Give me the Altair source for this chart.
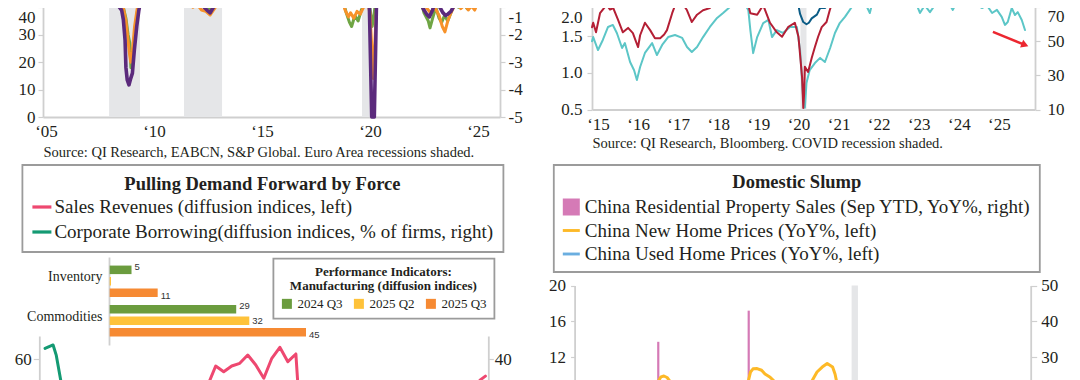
import altair as alt
import pandas as pd

# ---------------- data ----------------
# Top-left: Euro area indicators (green / orange on left axis, purple on right axis)
tl_recession_start = [2007.92, 2011.39, 2019.63]
tl_recession_end = [2009.35, 2013.15, 2020.0]
tl_green = [(2005.0, 52), (2006.0, 56), (2007.0, 57), (2007.8, 50), (2008.3, 45), (2008.55, 41),
            (2008.7, 36), (2008.8, 30), (2008.88, 27), (2008.93, 18), (2009.0, 21), (2009.1, 30),
            (2009.2, 37), (2009.3, 42), (2009.6, 48), (2010.5, 56), (2011.0, 57), (2011.5, 48),
            (2011.8, 42), (2012.0, 40.5), (2012.3, 41.5), (2012.6, 39.5), (2012.9, 41), (2013.2, 44),
            (2013.8, 50), (2015.0, 52), (2016.0, 53), (2017.0, 57), (2018.0, 55), (2018.7, 44),
            (2018.9, 38), (2019.05, 34.5), (2019.15, 33), (2019.3, 37), (2019.45, 35), (2019.6, 39),
            (2019.8, 42), (2019.98, 41), (2020.1, 33), (2020.2, 38), (2020.35, 50), (2021.0, 55),
            (2021.5, 62), (2022.0, 57), (2022.3, 44), (2022.5, 38), (2022.7, 35), (2022.78, 32.5),
            (2022.9, 36), (2023.05, 40), (2023.2, 36), (2023.32, 34.5), (2023.45, 37), (2023.6, 35),
            (2023.75, 38), (2023.9, 41), (2024.1, 40), (2024.3, 42), (2024.5, 39.5), (2024.7, 41),
            (2024.9, 43), (2025.2, 45), (2025.6, 47)]
tl_orange = [(2005.0, 54), (2006.0, 57), (2007.0, 58), (2007.8, 52), (2008.3, 46), (2008.5, 43),
             (2008.7, 35), (2008.85, 24), (2008.92, 20), (2009.0, 24), (2009.1, 33), (2009.25, 41),
             (2009.5, 48), (2010.5, 56), (2011.3, 50), (2011.6, 43), (2011.8, 40), (2012.0, 41),
             (2012.2, 39), (2012.4, 38.5), (2012.6, 37.2), (2012.8, 39.5), (2013.0, 42), (2013.5, 48),
             (2015.0, 53), (2017.0, 58), (2018.0, 57), (2018.6, 45), (2018.85, 39), (2019.0, 36.5),
             (2019.1, 38), (2019.25, 36), (2019.4, 38.5), (2019.55, 37.5), (2019.7, 40), (2019.85, 43),
             (2020.0, 38), (2020.12, 20), (2020.16, 14), (2020.24, 30), (2020.35, 48), (2021.0, 55),
             (2022.0, 56), (2022.4, 45), (2022.6, 40), (2022.8, 38), (2023.0, 40), (2023.2, 37),
             (2023.35, 33), (2023.47, 31), (2023.6, 35), (2023.75, 38), (2023.9, 40.5), (2024.1, 42),
             (2024.2, 39.5), (2024.4, 41), (2024.55, 39), (2024.7, 40.5), (2024.85, 39), (2025.0, 42),
             (2025.3, 44), (2025.6, 46)]
tl_purple = [(2005.0, 0.5), (2006.0, 0.8), (2007.0, 0.6), (2007.8, 0.2), (2008.2, -0.5), (2008.4, -1.0),
             (2008.5, -1.1), (2008.58, -1.45), (2008.66, -2.2), (2008.7, -3.2), (2008.76, -3.65),
             (2008.84, -3.83), (2008.92, -3.6), (2009.0, -3.4), (2009.09, -2.55), (2009.2, -1.7),
             (2009.3, -1.1), (2009.45, -0.5), (2010.0, 0.3), (2011.0, 0.5), (2011.5, -0.6),
             (2011.6, -0.85), (2011.7, -0.95), (2011.9, -0.7), (2012.2, -0.9), (2012.45, -1.1),
             (2012.6, -1.2), (2012.75, -1.0), (2013.0, -0.7), (2013.5, 0.1), (2015.0, 0.4),
             (2017.0, 0.7), (2018.8, 0.1), (2019.0, -0.6), (2019.3, -0.9), (2019.6, -0.8),
             (2019.97, -0.9), (2020.08, -5.0), (2020.2, -5.0), (2020.3, -0.9), (2020.4, 1.0),
             (2021.0, 1.5), (2022.0, 0.5), (2022.3, -0.8), (2022.5, -1.1), (2022.62, -1.25),
             (2022.75, -1.35), (2022.9, -1.1), (2023.0, -0.8), (2023.2, -0.95), (2023.38, -1.2),
             (2023.5, -1.3), (2023.6, -1.25), (2023.75, -1.15), (2023.85, -1.0), (2024.0, -0.8),
             (2024.3, -0.7), (2024.6, -0.9), (2025.0, -0.7), (2025.5, -0.5)]
tl_xticks = [2005, 2010, 2015, 2020, 2025]
tl_left_ticks = [0, 10, 20, 30, 40]
tl_right_ticks = [-5, -4, -3, -2, -1]
tl_source = "Source: QI Research, EABCN, S&P Global. Euro Area recessions shaded."

# Top-right: red / blue on left axis, cyan on right axis
tr_covid_start = [2020.05]
tr_covid_end = [2020.2]
tr_red = [(2014.85, 1.62), (2014.88, 1.68), (2014.95, 1.55), (2015.05, 1.81), (2015.15, 1.88),
          (2015.22, 1.92), (2015.3, 1.86), (2015.38, 1.88), (2015.5, 1.72), (2015.62, 1.55),
          (2015.75, 1.61), (2015.87, 1.54), (2015.95, 1.42), (2016.0, 1.35), (2016.05, 1.51),
          (2016.17, 1.68), (2016.3, 1.58), (2016.42, 1.47), (2016.55, 1.47), (2016.65, 1.52),
          (2016.72, 1.58), (2016.85, 1.81), (2016.97, 1.99), (2017.1, 1.95), (2017.22, 1.85),
          (2017.34, 1.69), (2017.47, 1.79), (2017.62, 1.85), (2017.79, 1.88), (2017.87, 1.99),
          (2018.2, 2.1), (2018.5, 2.05), (2018.72, 1.98), (2018.8, 1.81), (2018.97, 1.79),
          (2019.12, 1.92), (2019.29, 1.68), (2019.46, 1.55), (2019.59, 1.49), (2019.74, 1.62),
          (2019.91, 1.68), (2020.0, 1.49), (2020.09, 0.94), (2020.12, 0.52), (2020.14, 0.7),
          (2020.16, 1.08), (2020.24, 1.01), (2020.33, 1.2), (2020.41, 1.35), (2020.49, 1.49),
          (2020.58, 1.62), (2020.7, 1.69), (2020.78, 1.85), (2020.86, 1.99), (2021.0, 2.15),
          (2022.0, 2.4), (2023.0, 2.3), (2024.0, 2.4), (2025.0, 2.3), (2025.7, 2.2)]
tr_blue = [(2014.85, 2.4), (2015.8, 2.1), (2015.95, 1.97), (2016.05, 1.96), (2016.2, 2.1),
           (2017.0, 2.5), (2018.0, 2.6), (2019.0, 2.3), (2019.9, 2.2), (2019.97, 2.0),
           (2020.04, 1.8), (2020.12, 1.69), (2020.2, 1.66), (2020.26, 1.68), (2020.33, 1.74),
           (2020.46, 1.79), (2020.54, 1.88), (2020.66, 1.88), (2020.79, 1.95), (2020.9, 2.05),
           (2021.0, 2.3), (2022.0, 2.6), (2023.0, 2.5), (2024.0, 2.6), (2025.0, 2.5), (2025.7, 2.4)]
tr_cyan = [(2014.85, 50), (2014.88, 52.4), (2015.0, 44.8), (2015.12, 50.7), (2015.25, 58.3),
           (2015.37, 59.5), (2015.47, 54.8), (2015.6, 46), (2015.67, 48.9), (2015.8, 37.8),
           (2015.9, 33), (2015.97, 27.3), (2016.05, 34.9), (2016.17, 43.1), (2016.35, 48.9),
           (2016.47, 41.9), (2016.6, 47.8), (2016.75, 52.4), (2016.92, 53.6), (2017.1, 51.9),
           (2017.22, 46.6), (2017.34, 43.7), (2017.47, 46.6), (2017.62, 52.4), (2017.79, 58.3),
           (2017.97, 63.6), (2018.12, 66.5), (2018.29, 70), (2018.47, 70), (2018.62, 74),
           (2018.75, 68), (2018.8, 56.5), (2018.87, 43), (2018.97, 52.4), (2019.12, 60.6),
           (2019.25, 62.4), (2019.34, 52.4), (2019.46, 56.5), (2019.61, 54.8), (2019.79, 58.3),
           (2019.96, 58.3), (2020.04, 44.8), (2020.12, 15.6), (2020.16, 11), (2020.2, 25.5),
           (2020.28, 33.1), (2020.41, 37.2), (2020.54, 40.2), (2020.66, 37.8), (2020.79, 46),
           (2020.91, 54.8), (2021.03, 60.6), (2021.16, 64.2), (2021.33, 70), (2021.46, 74),
           (2021.66, 72.4), (2021.78, 66.5), (2021.86, 74), (2022.2, 80), (2022.78, 76),
           (2022.83, 71), (2022.92, 73), (2023.03, 66.5), (2023.15, 71), (2023.28, 67),
           (2023.4, 71), (2023.55, 76), (2023.73, 73), (2023.85, 68.3), (2023.95, 73),
           (2024.15, 78), (2024.35, 74), (2024.45, 71), (2024.58, 69.4), (2024.7, 71),
           (2024.83, 66.5), (2024.95, 68.3), (2025.07, 64.2), (2025.15, 59.5), (2025.22, 61.2),
           (2025.32, 69.4), (2025.4, 65.3), (2025.47, 67), (2025.57, 62.4), (2025.65, 56.5)]
tr_arrow = [(2024.85, 55.4, 2025.65, 47.8)]
tr_xticks = [2015, 2016, 2017, 2018, 2019, 2020, 2021, 2022, 2023, 2024, 2025]
tr_left_ticks = [0.5, 1.0, 1.5, 2.0]
tr_right_ticks = [10, 30, 50, 70]
tr_source = "Source: QI Research, Bloomberg. COVID recession shaded."

# Bottom-left: performance indicators (bars)
bar_categories = ["Inventory", "Commodities"]
bar_periods = ["2024 Q3", "2025 Q2", "2025 Q3"]
bar_inventory = [5, 0.3, 11]
bar_commodities = [29, 32, 45]
bar_title = ["Performance Indicators:", "Manufacturing  (diffusion indices)"]

# Bottom-left: pulling demand forward (lines)
bl_title = "Pulling Demand Forward by Force"
bl_series = ["Sales Revenues (diffusion indices, left)",
             "Corporate Borrowing(diffusion indices, % of firms, right)"]
bl_sales = [(2011.75, 35), (2012.5, 38), (2013.5, 33), (2014.5, 40), (2015.5, 36), (2016.25, 42),
            (2016.75, 39), (2017.0, 45.3), (2017.25, 56.1), (2017.5, 52.9), (2017.75, 56.1),
            (2018.0, 57.6), (2018.25, 62.2), (2018.5, 56.7), (2018.75, 49.3), (2019.0, 60.4),
            (2019.25, 66.5), (2019.5, 58.5), (2019.75, 62.8), (2020.0, -5), (2020.25, 10),
            (2020.75, 30), (2021.5, 40), (2022.5, 35), (2023.5, 38), (2024.5, 36), (2025.0, 40),
            (2025.25, 43), (2025.5, 48.4), (2025.66, 50.5)]
bl_borrowing = [(2011.93, 45.9), (2012.18, 47.8), (2012.28, 42.0), (2012.5, 20), (2013.0, 15),
                (2014.0, 12), (2015.0, 8), (2016.0, 10), (2017.0, 14), (2018.0, 18), (2019.0, 16),
                (2020.0, 25), (2021.0, 12), (2022.0, 10), (2023.0, 8), (2024.0, 10), (2025.0, 12),
                (2025.66, 14)]
bl_left_ticks = [60]
bl_right_ticks = [40]

# Bottom-right: domestic slump
br_title = "Domestic Slump"
br_series = ["China Residential Property Sales (Sep YTD, YoY%, right)",
             "China New Home Prices (YoY%, left)",
             "China Used Home Prices (YoY%, left)"]
br_sales_years = [2006.75, 2007.75, 2008.75, 2009.75, 2010.75, 2011.75, 2012.75, 2013.75, 2014.75,
                  2015.75, 2016.75, 2017.75, 2018.75, 2019.75, 2020.75, 2021.75, 2022.75, 2023.75,
                  2024.75, 2025.75]
br_sales = [20, 22, -15, 34.3, 11, 12, 4, 43.0, -10, 8, 20, 12, 14, 8, 12, -14, -26, -19, -23, -16]
br_new_prices = [(2006.05, 4), (2007.0, 7), (2008.0, 8), (2008.75, 2), (2009.25, -2), (2009.5, 3),
                 (2009.72, 9.0), (2009.78, 9.45), (2009.87, 9.8), (2010.0, 9.9), (2010.14, 9.73),
                 (2010.27, 9.3), (2010.6, 7), (2011.0, 5), (2011.5, 2), (2012.0, -1), (2012.5, -2),
                 (2013.0, 2), (2013.4, 6), (2013.7, 9.0), (2013.83, 10.35), (2013.94, 10.7),
                 (2014.12, 10.73), (2014.32, 10.54), (2014.47, 10.12), (2014.7, 9.75),
                 (2014.86, 9.37), (2015.2, 5), (2015.5, 1), (2015.9, -2), (2016.2, 4),
                 (2016.47, 9.0), (2016.77, 10.35), (2017.0, 10.9), (2017.22, 11.3), (2017.46, 10.9),
                 (2017.57, 10.1), (2017.66, 9.0), (2018.0, 6), (2018.5, 5), (2019.0, 7),
                 (2019.5, 8.5), (2020.0, 6), (2020.5, 4), (2021.0, 4.5), (2021.5, 2), (2022.0, -1),
                 (2022.5, -2), (2023.0, -1.5), (2023.5, -1), (2024.0, -4), (2024.5, -6),
                 (2025.0, -4), (2025.6, -3)]
br_used_prices = [(2011.0, 3), (2012.0, -2), (2013.0, 5), (2014.0, 2), (2015.0, -1), (2016.0, 6),
                  (2016.7, 8.5), (2017.3, 7), (2018.0, 4), (2019.0, 3), (2020.0, 2), (2021.0, 3),
                  (2022.0, -2), (2023.0, -4), (2024.0, -8), (2025.0, -6), (2025.6, -5)]
br_shade_start = [2018.3]
br_shade_end = [2018.58]
br_left_ticks = [12, 16, 20]
br_right_ticks = [30, 40, 50]

# ---------------- styling ----------------
SERIF = "Liberation Serif"
SANS = "Liberation Sans"
INK = "#231f20"
RULE = "#cfcfcf"
SHADE = "#e5e6e8"
TL_GREEN, TL_ORANGE, TL_PURPLE = "#6fa544", "#f7922a", "#5b2a7c"
TR_RED, TR_BLUE, TR_CYAN, ARROW = "#b41f35", "#0b5c86", "#5cc6c7", "#ec2730"
BAR_COLORS = ["#6b9c3e", "#fec23a", "#f68a33"]
BL_COLORS = ["#ee4870", "#149a73"]
BR_COLORS = ["#d57ab6", "#fdb927", "#6aaee0"]
LINE_PATH = "M-1,-0.17H1V0.17H-1Z"
SQUARE_PATH = "M-1,-1H1V1H-1Z"

W, H = 1064, 372
M = 8  # page margin: page pixel -> canvas pixel


def c(p):
    return p - M


def lin(domain, p_start, p_end):
    return alt.Scale(domain=domain, range=[c(p_start), c(p_end)], nice=False, zero=False)


def axis(orient, pos, **kw):
    if orient == "left":
        off = -c(pos)
    elif orient == "right":
        off = c(pos) - W
    else:
        off = c(pos) - H
    base = dict(orient=orient, offset=off, grid=False, domainColor=RULE, domainWidth=1.8,
                tickColor=RULE, tickWidth=1.2, tickSize=5, labelFont=SERIF, labelFontSize=17,
                labelColor=INK, labelFlush=False, labelOverlap=False, title=None)
    base.update(kw)
    return alt.Axis(**base)


def top_label_shift(top_value, shift):
    # keep the top tick label inside the page
    return {"condition": {"test": f"datum.value == {top_value}", "value": shift}, "value": 0}


YEAR_LABEL = "'\u2018' + substring(toString(datum.value), 2, 4)"

# panel scales
TL_X = lin([2004.86, 2026.02], 43, 500)
TL_YL = lin([0, 40], 117, 7.3)
TL_YR = lin([-5, -1], 117, 7.3)
TR_X = lin([2014.85, 2025.9], 592, 1035)
TR_YL = lin([0.5, 2.0], 109.5, -0.75)
TR_YR = lin([10, 70], 109.5, 7)
BAR_X = lin([0, 45], 109.7, 306)
BAR_Y = alt.Scale(domain=bar_categories, range=[c(257), c(345)], paddingInner=0, paddingOuter=0.114)
BAR_OFF = alt.Scale(domain=bar_periods, paddingInner=0.252, paddingOuter=0.357)
BL_X = lin([2011.75, 2025.75], 39.3, 488.3)
BL_YL = lin([0, 72.78], 467, 336)
BL_YR = lin([0, 52.78], 431, 336)
BR_X = lin([2006.05, 2026.22], 574.6, 1030.7)
BR_YL = lin([-20, 20], 643.6, 285.6)
BR_YR = lin([-50, 50], 643.6, 285.6)


def pairs_df(pairs):
    return pd.DataFrame(pairs, columns=["x", "v"])


def line(pairs, color, width, xs, ys, yax=None):
    return alt.Chart(pairs_df(pairs)).mark_line(
        color=color, strokeWidth=width, strokeJoin="round", strokeCap="round"
    ).encode(
        x=alt.X("x:Q", scale=xs, axis=None),
        y=alt.Y("v:Q", scale=ys, axis=yax),
    )


def shade(starts, ends, lo, hi, xs, ys, xax=None, yax=None):
    df = pd.DataFrame({"start": starts, "end": ends, "lo": lo, "hi": hi})
    return alt.Chart(df).mark_rect(color=SHADE).encode(
        x=alt.X("start:Q", scale=xs, axis=xax), x2="end:Q",
        y=alt.Y("lo:Q", scale=ys, axis=yax), y2="hi:Q",
    )


legend_common = dict(orient="none", titleFont=SERIF, titleFontWeight="bold", titleColor=INK,
                     titleAnchor="middle", titleAlign="center", labelFont=SERIF, labelColor=INK,
                     labelLimit=900, titleLimit=900, strokeColor="#9b9b9b", fillColor="white",
                     symbolStrokeWidth=0, symbolOpacity=1)

layers = []

# ---- top-left panel ----
layers.append(shade(tl_recession_start, tl_recession_end, 0, 43, TL_X, TL_YL,
                    xax=axis("bottom", 117, values=tl_xticks, labelExpr=YEAR_LABEL, ticks=False,
                             labelPadding=6, title=tl_source, titleFont=SERIF, titleFontSize=14.5,
                             titleFontWeight="normal", titleColor=INK, titleAnchor="start",
                             titleAlign="left", titlePadding=6),
                    yax=axis("left", 43, values=tl_left_ticks, labelPadding=3,
                             labelOffset=top_label_shift(40, 10))))
layers.append(line(tl_green, TL_GREEN, 3, TL_X, TL_YL))
layers.append(line(tl_orange, TL_ORANGE, 3, TL_X, TL_YL))
layers.append(line(tl_purple, TL_PURPLE, 3.6, TL_X, TL_YR,
                   yax=axis("right", 500, values=tl_right_ticks, labelPadding=3,
                            labelExpr="toString(datum.value)",
                            labelOffset=top_label_shift(-1, 10))))

# ---- top-right panel ----
layers.append(shade(tr_covid_start, tr_covid_end, 0.5, 2.1, TR_X, TR_YL,
                    xax=axis("bottom", 109.5, values=tr_xticks, labelExpr=YEAR_LABEL, ticks=False,
                             labelPadding=7, title=tr_source, titleFont=SERIF, titleFontSize=14.5,
                             titleFontWeight="normal", titleColor=INK, titleAnchor="start",
                             titleAlign="left", titlePadding=4),
                    yax=axis("left", 592, values=tr_left_ticks, format=".1f", labelPadding=5,
                             labelOffset=top_label_shift(2.0, 18))))
layers.append(line(tr_cyan, TR_CYAN, 2, TR_X, TR_YR,
                   yax=axis("right", 1035, values=tr_right_ticks, labelPadding=7,
                            labelOffset=top_label_shift(70, 9))))
layers.append(line(tr_red, TR_RED, 2, TR_X, TR_YL))
layers.append(line(tr_blue, TR_BLUE, 2, TR_X, TR_YL))
arrow_df = pd.DataFrame(tr_arrow, columns=["x", "v", "x2", "v2"])
layers.append(alt.Chart(arrow_df).mark_rule(color=ARROW, strokeWidth=2.5).encode(
    x=alt.X("x:Q", scale=TR_X, axis=None), x2="x2:Q",
    y=alt.Y("v:Q", scale=TR_YR, axis=None), y2="v2:Q"))
layers.append(alt.Chart(arrow_df).mark_point(shape="triangle-right", filled=True, size=70, angle=22,
                                             color=ARROW, opacity=1).encode(
    x=alt.X("x2:Q", scale=TR_X, axis=None),
    y=alt.Y("v2:Q", scale=TR_YR, axis=None)))

# ---- bottom-left: grouped bars ----
bar_df = pd.DataFrame({
    "cat": [cat for cat in bar_categories for _ in bar_periods],
    "period": bar_periods * len(bar_categories),
    "value": bar_inventory + bar_commodities,
})
layers.append(alt.Chart(bar_df).mark_bar().encode(
    x=alt.X("value:Q", scale=BAR_X, axis=None),
    y=alt.Y("cat:N", scale=BAR_Y, sort=bar_categories,
            axis=axis("left", 109, ticks=False, labelPadding=7, labelFontSize=14, labelOffset=-4)),
    yOffset=alt.YOffset("period:N", scale=BAR_OFF, sort=bar_periods),
    color=alt.Color("period:N", scale=alt.Scale(domain=bar_periods, range=BAR_COLORS),
                    legend=alt.Legend(title=bar_title, titleFontSize=13, titleLineHeight=14.5,
                                      labelFontSize=13, legendX=c(273.4), legendY=c(258.6),
                                      padding=7, titlePadding=4, direction="horizontal",
                                      columnPadding=9, labelOffset=4, symbolSize=100,
                                      symbolType="square", **legend_common)),
))
layers.append(alt.Chart(bar_df).transform_filter("datum.value >= 1").mark_text(
    align="left", baseline="middle", dx=3, font=SANS, fontSize=9.5, color="#333333"
).encode(
    x=alt.X("value:Q", scale=BAR_X, axis=None),
    y=alt.Y("cat:N", scale=BAR_Y, sort=bar_categories, axis=None),
    yOffset=alt.YOffset("period:N", scale=BAR_OFF, sort=bar_periods),
    text=alt.Text("value:Q", format="d"),
))

# ---- bottom-left: lines ----
layers.append(line(bl_sales, BL_COLORS[0], 3, BL_X, BL_YL,
                   yax=axis("left", 39.3, values=bl_left_ticks, tickSize=6, labelPadding=2)))
layers.append(line(bl_borrowing, BL_COLORS[1], 3, BL_X, BL_YR,
                   yax=axis("right", 488.3, values=bl_right_ticks, labelPadding=1)))
layers.append(alt.Chart(pd.DataFrame({"s": bl_series})).mark_point(filled=True, size=0, opacity=1).encode(
    color=alt.Color("s:N", scale=alt.Scale(domain=bl_series, range=BL_COLORS),
                    legend=alt.Legend(title=bl_title, titleFontSize=18.5, labelFontSize=19,
                                      legendX=c(22.4), legendY=c(165), padding=10, titlePadding=4,
                                      rowPadding=5, labelOffset=3, symbolType=LINE_PATH,
                                      symbolSize=361, **legend_common))))

# ---- bottom-right panel ----
layers.append(shade(br_shade_start, br_shade_end, -20, 20, BR_X, BR_YL,
                    yax=axis("left", 574.6, values=br_left_ticks, tickSize=4, labelPadding=5)))
sales_df = pd.DataFrame({"x": br_sales_years, "v": br_sales, "zero": 0})
layers.append(alt.Chart(sales_df).mark_rule(color=BR_COLORS[0], strokeWidth=2.2).encode(
    x=alt.X("x:Q", scale=BR_X, axis=None),
    y=alt.Y("v:Q", scale=BR_YR, axis=axis("right", 1030.7, values=br_right_ticks, tickSize=6,
                                            labelPadding=4)),
    y2="zero:Q"))
layers.append(line(br_new_prices, BR_COLORS[1], 3, BR_X, BR_YL))
layers.append(line(br_used_prices, BR_COLORS[2], 3, BR_X, BR_YL))
br_legend = alt.Legend(title=br_title, titleFontSize=18.5, labelFontSize=19, legendX=c(553.8),
                       legendY=c(165), padding=8, titlePadding=6, rowPadding=3.5, labelOffset=4,
                       symbolSize=289, **legend_common)
layers.append(alt.Chart(pd.DataFrame({"s": br_series})).mark_point(filled=True, size=0, opacity=1).encode(
    color=alt.Color("s:N", scale=alt.Scale(domain=br_series, range=BR_COLORS), legend=br_legend),
    shape=alt.Shape("s:N", scale=alt.Scale(domain=br_series,
                                            range=[SQUARE_PATH, LINE_PATH, LINE_PATH]),
                    legend=br_legend),
))

chart = (
    alt.layer(*layers)
    .resolve_scale(x="independent", y="independent", color="independent",
                   shape="independent", yOffset="independent")
    .properties(width=W, height=H, padding=0, autosize=alt.AutoSizeParams(type="none"),
                background="white")
    .configure_view(stroke=None)
    .configure_legend(strokeWidth=1.8)
)

chart.save("out.html", embed_options={"renderer": "svg", "actions": False})
